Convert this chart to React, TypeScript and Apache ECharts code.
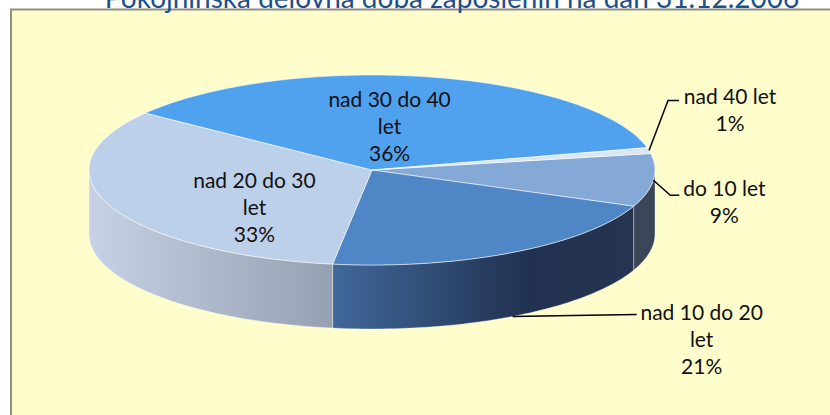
import React, { useEffect, useRef } from "react";
import * as echarts from "echarts";

// ---- data ----
const titleText = "Pokojninska delovna doba zaposlenih na dan 31.12.2006";
const categories = ["do 10 let", "nad 10 do 20 let", "nad 20 do 30 let", "nad 30 do 40 let", "nad 40 let"];
const labelLines = [["do 10 let"], ["nad 10 do 20", "let"], ["nad 20 do 30", "let"], ["nad 30 do 40", "let"], ["nad 40 let"]];
const values = [9, 21, 33, 36, 1];

// ---- styles / layout (not data) ----
const topColors = ["#85a9d7", "#4f86c6", "#bdd0e9", "#50a2ef", "#dce6f1"];
const wallStops = [
  [[0, "#3d475a"], [1, "#3a4457"]],
  [[0, "#40689a"], [0.65, "#213150"], [1, "#25344f"]],
  [[0, "#c6d2e5"], [1, "#95a1b1"]],
  [[0, "#2f6fb0"], [1, "#2a5f99"]],
  [[0, "#b0bccc"], [1, "#a0acbc"]],
];
// label placement: inside (fraction of radius + nudge) or outside with leader
const labelLayout: any[] = [
  { mode: "out", from: "top", elbow: [17, 15], end: [26, 15], text: [45, 6] },
  { mode: "out", from: "bottom", elbow: [60, -1], end: [124, -2], text: [65, 24] },
  { mode: "in", f: 0.45, nudge: [0, 20] },
  { mode: "in", f: 0.45, nudge: [-8, -3] },
  { mode: "out", from: "top", elbow: [19, -50], end: [30, -50], text: [51, 8] },
];

const CX = 372, CY = 170, RX = 283, RY = 95, DEPTH = 64, START = -10;
const FONT = "Lato, 'Open Sans', sans-serif";

const total = values.reduce((a, b) => a + b, 0);
const starts: number[] = [];
{
  let acc = START;
  values.forEach((v) => { starts.push(acc); acc += (v / total) * 360; });
}
const rad = (d: number) => (d * Math.PI) / 180;
const pt = (deg: number, dy = 0): number[] => [CX + RX * Math.cos(rad(deg)), CY + RY * Math.sin(rad(deg)) + dy];
const arc = (a0: number, a1: number, dy = 0): number[][] => {
  const n = Math.max(2, Math.ceil(Math.abs(a1 - a0)));
  const out: number[][] = [];
  for (let i = 0; i <= n; i++) out.push(pt(a0 + ((a1 - a0) * i) / n, dy));
  return out;
};

function renderItem(params: any, api: any) {
  const i = params.dataIndex;
  const v = api.value(0);
  const a0 = starts[i];
  const a1 = a0 + (v / total) * 360;
  const mid = (a0 + a1) / 2;
  const children: any[] = [];

  // side wall (front half only)
  const s = Math.max(a0, 0), e = Math.min(a1, 180);
  if (e > s) {
    const top = arc(s, e);
    const bot = arc(e, s, DEPTH);
    const pts = top.concat(bot);
    const xs = pts.map((p) => p[0]);
    const minX = Math.min(...xs), maxX = Math.max(...xs);
    children.push({
      type: "polygon",
      z2: 5,
      shape: { points: pts },
      style: {
        fill: new echarts.graphic.LinearGradient(minX, 0, maxX, 0,
          wallStops[i].map((st: any) => ({ offset: st[0], color: st[1] })), true),
        stroke: "rgba(255,255,255,0.35)",
        lineWidth: 1,
      },
    });
  }

  // top face
  children.push({
    type: "polygon",
    z2: 10,
    shape: { points: [[CX, CY]].concat(arc(a0, a1)) },
    style: { fill: topColors[i], stroke: "rgba(255,255,255,0.55)", lineWidth: 1 },
  });

  const pct = Math.round((v / total) * 100) + "%";
  const text = labelLines[i].concat([pct]).join("\n");
  const L = labelLayout[i];
  let tx: number, ty: number;
  if (L.mode === "in") {
    const p = [CX + RX * L.f * Math.cos(rad(mid)), CY + RY * L.f * Math.sin(rad(mid))];
    tx = p[0] + L.nudge[0];
    ty = p[1] + L.nudge[1];
  } else {
    const anchor = pt(mid, L.from === "bottom" ? DEPTH : 0);
    const elbow = [anchor[0] + L.elbow[0], anchor[1] + L.elbow[1]];
    const end = [anchor[0] + L.end[0], anchor[1] + L.end[1]];
    children.push({
      type: "polyline",
      z2: 20,
      shape: { points: [anchor, elbow, end] },
      style: { stroke: "#000", lineWidth: 1.5, fill: null },
    });
    tx = end[0] + L.text[0];
    ty = end[1] + L.text[1];
  }
  children.push({
    type: "text",
    z2: 30,
    style: {
      text,
      x: tx,
      y: ty,
      align: "center",
      verticalAlign: "middle",
      font: `21px ${FONT}`,
      lineHeight: 27,
      fill: "#111",
    },
  });

  return { type: "group", children };
}

export default function App() {
  const ref = useRef<HTMLDivElement>(null);
  useEffect(() => {
    if (!ref.current) return;
    const chart = echarts.init(ref.current, undefined, { renderer: "svg" });
    chart.setOption({
      animation: false,
      graphic: [
        {
          type: "rect",
          z: -10,
          shape: { x: 11, y: 9.5, width: 840, height: 430 },
          style: { fill: "#fffdcc", stroke: "#8f8f82", lineWidth: 2 },
        },
        {
          type: "text",
          z: 10,
          style: {
            text: titleText,
            x: 452,
            y: 11,
            align: "center",
            verticalAlign: "bottom",
            font: `28px ${FONT}`,
            fill: "#1f4f8a",
          },
        },
      ],
      series: [
        {
          type: "custom",
          coordinateSystem: "none",
          name: "Delovna doba",
          renderItem,
          data: values.map((v, i) => ({ name: categories[i], value: [v] })),
        },
      ],
    });
    return () => chart.dispose();
  }, []);
  return (
    <div
      ref={ref}
      style={{ position: "fixed", left: 0, top: 0, width: 830, height: 415, background: "#fff" }}
    />
  );
}
